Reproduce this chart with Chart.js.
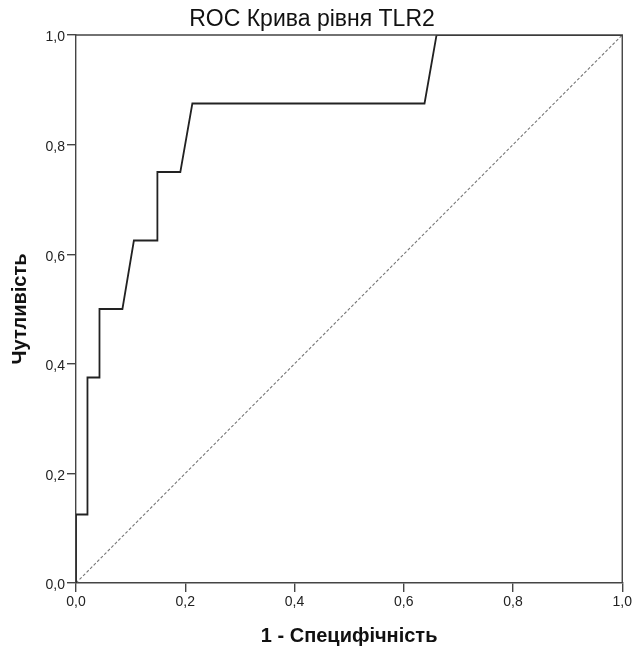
<!DOCTYPE html>
<html>
<head>
<meta charset="utf-8">
<script src="https://cdn.jsdelivr.net/npm/chart.js@4"></script>
<style>
html,body{margin:0;padding:0;background:#fff;}
#wrap{width:634px;height:646px;}
</style>
</head>
<body>
<div id="wrap"><canvas id="c" width="634" height="646"></canvas></div>
<script>
const titleText = "ROC Крива рівня TLR2";
const xTitle = "1 - Специфічність";
const yTitle = "Чутливість";
// ROC curve (1 - specificity, sensitivity)
const fpr = [0, 0, 0.021, 0.021, 0.043, 0.043, 0.085, 0.106, 0.149, 0.149, 0.191, 0.213, 0.638, 0.660, 1.0];
const tpr = [0, 0.125, 0.125, 0.375, 0.375, 0.5, 0.5, 0.625, 0.625, 0.75, 0.75, 0.875, 0.875, 1.0, 1.0];
// reference diagonal
const refX = [0, 1];
const refY = [0, 1];
const tickValues = [0, 0.2, 0.4, 0.6, 0.8, 1.0];

const FONT = "'Liberation Sans', Arial, sans-serif";
const fmt = v => Number(v).toFixed(1).replace('.', ',');

const framePlugin = {
  id: 'frame',
  afterDatasetsDraw(chart) {
    const {ctx, chartArea: a} = chart;
    ctx.save();
    ctx.strokeStyle = '#444';
    ctx.lineWidth = 1.4;
    ctx.beginPath();
    ctx.moveTo(a.left, a.top);
    ctx.lineTo(a.right, a.top);
    ctx.lineTo(a.right, a.bottom);
    ctx.stroke();
    ctx.restore();
  }
};

new Chart(document.getElementById('c'), {
  type: 'scatter',
  data: {
    datasets: [
      {
        data: fpr.map((x, i) => ({x, y: tpr[i]})),
        showLine: true,
        borderColor: '#222',
        borderWidth: 1.8,
        pointRadius: 0,
        tension: 0,
        fill: false
      },
      {
        data: refX.map((x, i) => ({x, y: refY[i]})),
        showLine: true,
        borderColor: '#777',
        borderWidth: 1.1,
        borderDash: [3, 2],
        pointRadius: 0,
        fill: false
      }
    ]
  },
  options: {
    responsive: false,
    animation: false,
    layout: {padding: {left: 0, right: 10, top: 0, bottom: 0}},
    plugins: {
      legend: {display: false},
      tooltip: {enabled: false},
      title: {
        display: true,
        text: titleText,
        color: '#111',
        font: {family: FONT, size: 23, weight: 'normal', lineHeight: 1.2},
        padding: {top: 6.2, bottom: 1.2}
      }
    },
    scales: {
      x: {
        type: 'linear',
        min: 0, max: 1,
        afterBuildTicks: s => { s.ticks = tickValues.map(v => ({value: v})); },
        afterFit: s => { s.height = 63; },
        ticks: {
          callback: fmt,
          color: '#222',
          font: {family: FONT, size: 14},
          padding: 2,
          maxRotation: 0
        },
        grid: {display: true, drawOnChartArea: false, drawTicks: true, tickLength: 9, color: '#444', lineWidth: 1.4},
        border: {display: true, color: '#444', width: 1.4},
        title: {
          display: true,
          text: xTitle,
          color: '#111',
          font: {family: FONT, size: 20, weight: 'bold', lineHeight: 1},
          padding: {top: 0, bottom: 0}
        }
      },
      y: {
        type: 'linear',
        min: 0, max: 1,
        afterBuildTicks: s => { s.ticks = tickValues.map(v => ({value: v})); },
        afterFit: s => { s.width = 76; },
        ticks: {
          callback: fmt,
          color: '#222',
          font: {family: FONT, size: 14},
          padding: 2,
          labelOffset: 2.5
        },
        grid: {display: true, drawOnChartArea: false, drawTicks: true, tickLength: 9, color: '#444', lineWidth: 1.4},
        border: {display: true, color: '#444', width: 1.4},
        title: {
          display: true,
          text: yTitle,
          color: '#111',
          font: {family: FONT, size: 20, weight: 'bold', lineHeight: 1},
          padding: {top: 10, bottom: 0}
        }
      }
    }
  },
  plugins: [framePlugin]
});
</script>
</body>
</html>
